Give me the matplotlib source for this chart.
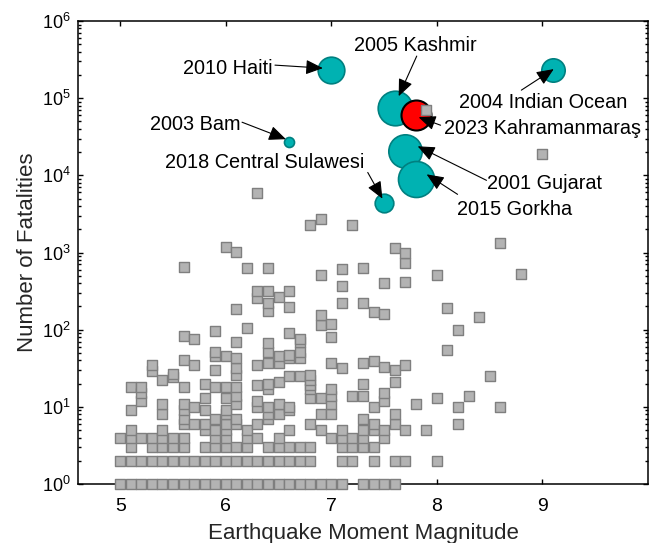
import numpy as np
import matplotlib
matplotlib.use('Agg')
import matplotlib.pyplot as plt

plt.rcParams['font.family'] = ['Liberation Sans', 'DejaVu Sans']

# background catalogue: one magnitude per row, fatalities of each event at that magnitude
bg_mag = [5.0, 5.1, 5.2, 5.3, 5.4, 5.5, 5.6, 5.7, 5.8, 5.9,
          6.0, 6.1, 6.2, 6.3, 6.4, 6.5, 6.6, 6.7, 6.8, 6.9,
          7.0, 7.1, 7.2, 7.3, 7.4, 7.5, 7.6, 7.7, 7.8, 7.9,
          8.0, 8.1, 8.2, 8.3, 8.4, 8.5, 8.6, 8.8, 9.0]
bg_deaths = [
    [1, 2, 4],
    [1, 2, 3, 4, 5, 9, 18],
    [1, 2, 4, 12, 15, 18],
    [1, 2, 3, 4, 29, 35],
    [1, 2, 3, 4, 5, 8, 11, 22],
    [1, 2, 3, 4, 24, 27],
    [1, 2, 3, 4, 6, 7, 9, 11, 18, 41, 82, 640],
    [1, 2, 6, 10, 35, 76],
    [1, 2, 3, 5, 6, 9, 13, 20],
    [1, 2, 3, 4, 5, 7, 18, 30, 45, 52, 95],
    [1, 2, 3, 4, 5, 6, 8, 9, 13, 18, 45, 1170],
    [1, 2, 3, 6, 7, 11, 14, 18, 26, 32, 43, 70, 187, 1020],
    [1, 2, 3, 4, 5, 105, 638],
    [1, 2, 4, 6, 10, 12, 19, 35, 258, 314, 5840],
    [1, 2, 3, 7, 8, 10, 17, 20, 37, 51, 67, 173, 222, 314, 632],
    [1, 2, 3, 4, 8, 11, 21, 37, 45, 263],
    [1, 2, 3, 5, 9, 10, 25, 43, 47, 91, 195, 318],
    [1, 2, 3, 25, 43, 52, 70, 76],
    [1, 2, 3, 6, 13, 17, 19, 22, 26, 2240],
    [1, 5, 8, 13, 114, 153, 518, 2700],
    [1, 4, 8, 11, 14, 17, 37, 80, 120],
    [1, 2, 3, 4, 5, 32, 222, 373, 614],
    [2, 3, 4, 14, 2240],
    [1, 3, 4, 5, 7, 14, 20, 37, 222, 624],
    [1, 2, 3, 5, 6, 10, 39, 168],
    [1, 4, 5, 12, 15, 33, 161, 404],
    [1, 2, 6, 8, 21, 30, 1127],
    [2, 5, 35, 410, 735, 971],
    [11],
    [5, 69800],
    [2, 13, 518],
    [55, 191],
    [6, 10, 98],
    [14],
    [145],
    [25],
    [10, 1336],
    [525],
    [18700],
]

# highlighted events
event_names = ['2010 Haiti', '2004 Indian Ocean', '2005 Kashmir', '2023 Kahramanmaraş',
               '2001 Gujarat', '2015 Gorkha', '2018 Central Sulawesi', '2003 Bam']
event_mag = [7.0, 9.1, 7.6, 7.8, 7.7, 7.8, 7.5, 6.6]
event_deaths = [230000, 230000, 74000, 60000, 20500, 8900, 4400, 27000]

# marker areas and label layout (data coords)
event_size = [368, 283, 620, 467, 577, 672, 180, 52]
label_xy = [(6.444, 2.05e5), (9.003, 7.42e4), (7.80, 4.04e5), (8.067, 3.48e4),
            (8.47, 6.58e3), (8.193, 3.02e3), (6.369, 1.26e4), (6.144, 3.87e4)]
label_ha = ['right', 'center', 'center', 'left', 'left', 'left', 'center', 'right']
arrow_tail = [(6.466, 2.68e5), (8.80, 1.27e5), (7.809, 3.51e5), (8.035, 4.46e4),
              (8.47, 8.61e3), (8.196, 5.67e3), (7.345, 1.09e4), (6.154, 4.88e4)]
arrow_tip = [(6.92, 2.45e5), (9.107, 2.38e5), (7.638, 1.06e5), (7.827, 5.66e4),
             (7.818, 2.38e4), (7.903, 1.03e4), (7.484, 4.98e3), (6.57, 2.94e4)]

x = np.repeat(bg_mag, [len(d) for d in bg_deaths])
y = np.concatenate([np.array(d, dtype=float) for d in bg_deaths])

fig = plt.figure(figsize=(6.5, 5.43), dpi=100)
ax = fig.add_axes([78 / 650, 59 / 543, 570 / 650, 463 / 543])

for i, name in enumerate(event_names):
    if 'Kahramanmara' in name:
        fc, ec, lw = '#ff0000', 'black', 1.5
    else:
        fc, ec, lw = '#00b2b2', '#008080', 1.2
    ax.scatter(event_mag[i], event_deaths[i], s=event_size[i], c=fc,
               edgecolors=ec, linewidths=lw, zorder=3 + i * 0.01)

ax.scatter(x, y, s=50, marker='s', c='#b3b3b3', edgecolors='#7f7f7f',
           linewidths=1.0, zorder=4, clip_on=False)

for i, name in enumerate(event_names):
    ax.annotate('', xy=arrow_tip[i], xytext=arrow_tail[i],
                arrowprops=dict(arrowstyle='-|>,head_length=0.7,head_width=0.3',
                                color='black', lw=0.8, mutation_scale=15,
                                shrinkA=0, shrinkB=0), zorder=6)
    ax.text(label_xy[i][0], label_xy[i][1], name, ha=label_ha[i], va='baseline',
            fontsize=14.3, zorder=6)

ax.set_yscale('log')
ax.set_xlim(4.6, 10)
ax.set_ylim(1, 1e6)
ax.set_xticks([5, 6, 7, 8, 9])
ax.set_yticks([1e0, 1e1, 1e2, 1e3, 1e4, 1e5, 1e6])

for sp in ax.spines.values():
    sp.set_linewidth(1.1)
ax.tick_params(which='both', direction='in', top=True, right=True, width=1.0)
ax.tick_params(which='major', length=3.8)
ax.tick_params(which='minor', length=2)
ax.tick_params(axis='x', labelsize=14, pad=10)
ax.tick_params(axis='y', labelsize=13, pad=5)

ax.set_xlabel('Earthquake Moment Magnitude', fontsize=16, color='#262626', labelpad=6)
ax.set_ylabel('Number of Fatalities', fontsize=16, color='#262626', labelpad=3)

fig.savefig('out.png', dpi=100)
